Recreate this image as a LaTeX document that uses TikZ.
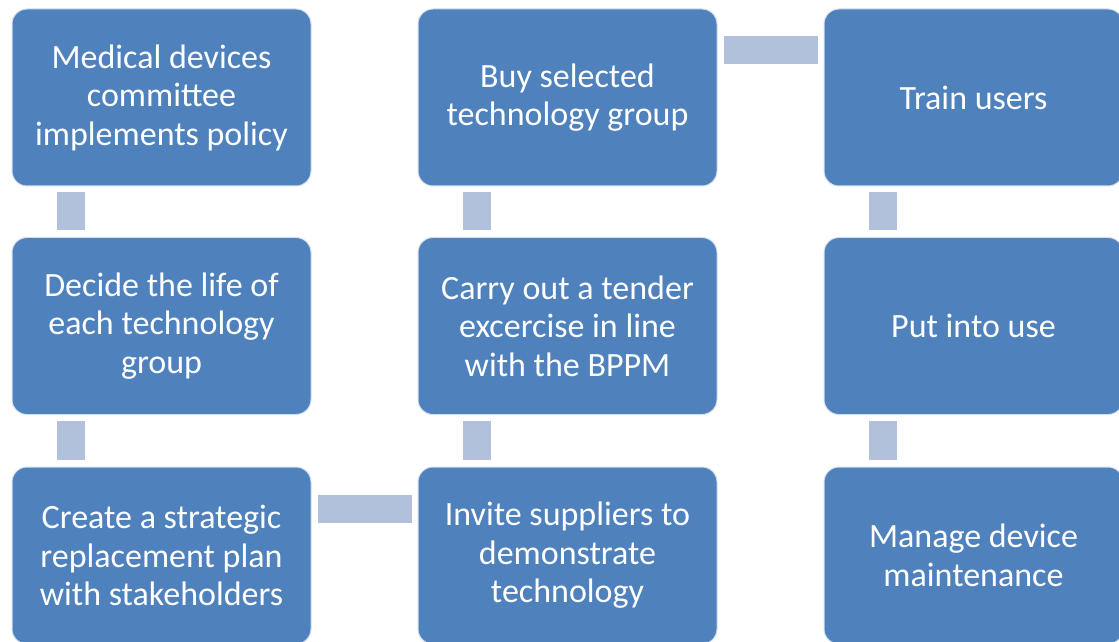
\documentclass[tikz,border=0pt]{standalone}
\usepackage{fontspec}
\setmainfont{Carlito}
\definecolor{boxblue}{HTML}{4F81BD}
\definecolor{linkblue}{HTML}{B1C1DB}
\begin{document}
\begin{tikzpicture}[x=1pt, y=1pt,
  box/.style={draw=white!75!boxblue, line width=1pt, fill=boxblue, rounded corners=15pt,
    minimum width=299pt, minimum height=177pt, inner sep=0pt, align=center, text=white,
    font=\fontsize{34}{38.5}\selectfont},
  link/.style={fill=linkblue}]
  \useasboundingbox (0,0) rectangle (1119,641);
  \clip (0,0) rectangle (1119,641);
  \node[box] (med)    at (161.5,543.5) {Medical devices\\committee\\implements policy};
  \node[box] (life)   at (161.5,315)   {Decide the life of\\each technology\\group};
  \node[box] (plan)   at (161.5,85.5)  {Create a strategic\\replacement plan\\with stakeholders};
  \node[box] (invite) at (567.5,85.5)  {Invite suppliers to\\demonstrate\\technology};
  \node[box] (tender) at (567.5,315)   {Carry out a tender\\excercise in line\\with the BPPM};
  \node[box] (buy)    at (567.5,543.5) {Buy selected\\technology group};
  \node[box] (train)  at (973.5,543.5) {Train users};
  \node[box] (use)    at (973.5,315)   {Put into use};
  \node[box] (maint)  at (973.5,85.5)  {Manage device\\maintenance};
  % vertical links
  \foreach \a/\b in {med/life,life/plan,buy/tender,tender/invite,train/use,use/maint}
    \fill[link] ([shift={(45,-6)}]\a.south west) rectangle ([shift={(73,7)}]\b.north west);
  % horizontal links
  \fill[link] ([shift={(6,-28)}]plan.north east) rectangle ([shift={(-6,-56)}]invite.north west);
  \fill[link] ([shift={(6,-28)}]buy.north east) rectangle ([shift={(-6,-56)}]train.north west);
\end{tikzpicture}
\end{document}
